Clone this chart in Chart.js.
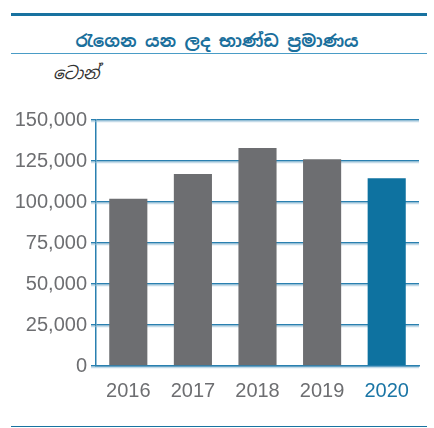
<!DOCTYPE html>
<html><head><meta charset="utf-8">
<script src="https://cdn.jsdelivr.net/npm/chart.js@4"></script>
<style>
html,body{margin:0;padding:0;background:#fff;}
#wrap{position:relative;width:434px;height:428px;overflow:hidden;background:#fff;}
.topline{position:absolute;left:11px;width:416px;top:13px;height:3px;background:#1872a0;}
.title{position:absolute;left:0;width:434px;top:29px;text-align:center;font:bold 17px "Noto Sans Sinhala","Noto Sans",sans-serif;color:#1a6f9c;line-height:24px;}
.subline{position:absolute;left:11px;width:416px;top:53px;height:1px;background:#4a9cc6;}
.unit{position:absolute;left:53px;top:61px;font:italic 17px "Noto Sans Sinhala","Noto Sans",sans-serif;color:#333;line-height:24px;}
.botline{position:absolute;left:11px;width:416px;top:426px;height:1px;background:#1872a0;}
canvas{position:absolute;left:0;top:0;}
</style></head>
<body><div id="wrap">
<div class="topline"></div>
<div class="title">රැගෙන යන ලද භාණ්ඩ ප්‍රමාණය</div>
<div class="subline"></div>
<div class="unit">ටොන්</div>
<div class="botline"></div>
<canvas id="c" width="434" height="428"></canvas>
</div>
<script>
const categories = ['2016','2017','2018','2019','2020'];
const values = [102000, 117000, 133000, 126000, 114500];
const barColors = ['#6d6e71','#6d6e71','#6d6e71','#6d6e71','#0e72a0'];
const labelColors = ['#6d6e71','#6d6e71','#6d6e71','#6d6e71','#1a75a5'];

const gridShadow = {
  id:'gridShadow',
  beforeDatasetsDraw(chart){
    const y = chart.scales.y, ctx = chart.ctx, a = chart.chartArea;
    ctx.save();
    ctx.strokeStyle = 'rgba(150,190,215,0.55)';
    ctx.lineWidth = 1.5;
    y.ticks.forEach(t=>{
      const py = y.getPixelForValue(t.value) + 1.5;
      ctx.beginPath(); ctx.moveTo(a.left-5, py); ctx.lineTo(a.right, py); ctx.stroke();
    });
    ctx.restore();
  }
};

new Chart(document.getElementById('c'), {
  type:'bar',
  data:{labels:categories, datasets:[{data:values, backgroundColor:barColors, barPercentage:0.59, categoryPercentage:1}]},
  options:{
    responsive:false, animation:false,
    layout:{padding:{left:0,right:15,top:120,bottom:0}},
    plugins:{legend:{display:false},tooltip:{enabled:false}},
    scales:{
      x:{
        grid:{display:false},
        border:{display:true,color:'#2a80b0',width:1.5},
        ticks:{color:labelColors,font:{family:'"Liberation Sans",Arial,sans-serif',size:20},padding:5},
        afterFit(s){s.height=62;}
      },
      y:{
        min:0,max:150000,
        grid:{color:'#2a80b0',lineWidth:1.5,tickLength:5,drawTicks:true},
        border:{display:true,color:'#2a80b0',width:1.5},
        ticks:{stepSize:25000,color:'#6d6e71',font:{family:'"Liberation Sans",Arial,sans-serif',size:20},padding:4,
          callback:v=>v.toLocaleString('en-US')},
        afterFit(s){s.width=96;}
      }
    }
  },
  plugins:[gridShadow]
});
</script>
</body></html>
